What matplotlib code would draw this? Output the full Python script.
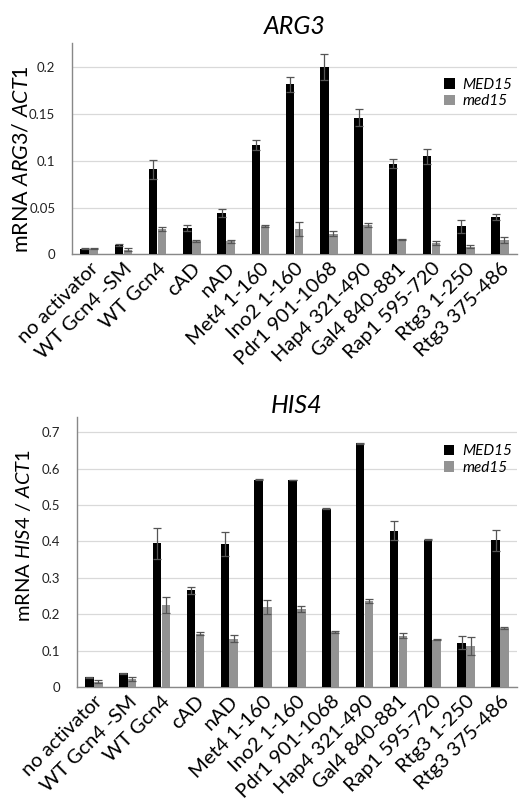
import numpy as np
import matplotlib
matplotlib.use("Agg")
import matplotlib.pyplot as plt
from matplotlib.ticker import FixedLocator, FuncFormatter

plt.rcParams['font.family'] = ['Lato', 'DejaVu Sans']
plt.rcParams['mathtext.fontset'] = 'custom'
plt.rcParams['mathtext.rm'] = 'Lato'
plt.rcParams['mathtext.it'] = 'Lato:italic'

labels = ['no activator', 'WT Gcn4 -SM', 'WT Gcn4', 'cAD', 'nAD', 'Met4 1-160',
          'Ino2 1-160', 'Pdr1 901-1068', 'Hap4 321-490', 'Gal4 840-881',
          'Rap1 595-720', 'Rtg3 1-250', 'Rtg3 375-486']

# ARG3
arg3_wt = [0.006, 0.010, 0.091, 0.028, 0.044, 0.117, 0.182, 0.200, 0.146, 0.097, 0.105, 0.030, 0.040]
arg3_wt_err = [0.0005, 0.0008, 0.010, 0.003, 0.004, 0.005, 0.008, 0.014, 0.009, 0.005, 0.008, 0.007, 0.003]
arg3_mut = [0.006, 0.005, 0.027, 0.014, 0.014, 0.030, 0.027, 0.022, 0.031, 0.016, 0.012, 0.008, 0.015]
arg3_mut_err = [0.0004, 0.002, 0.002, 0.001, 0.0015, 0.001, 0.008, 0.003, 0.002, 0.0005, 0.002, 0.0015, 0.003]

# HIS4
his4_wt = [0.027, 0.038, 0.395, 0.266, 0.392, 0.570, 0.569, 0.490, 0.670, 0.430, 0.405, 0.122, 0.403]
his4_wt_err = [0.001, 0.001, 0.042, 0.010, 0.033, 0.002, 0.001, 0.001, 0.002, 0.025, 0.001, 0.018, 0.028]
his4_mut = [0.015, 0.022, 0.225, 0.147, 0.133, 0.220, 0.214, 0.151, 0.237, 0.141, 0.130, 0.113, 0.163]
his4_mut_err = [0.003, 0.006, 0.022, 0.003, 0.009, 0.020, 0.009, 0.002, 0.006, 0.007, 0.001, 0.024, 0.003]

black = '#000000'
grey = '#939393'
errc = '#555555'

fig = plt.figure(figsize=(5.2, 8.02), dpi=100)
ax1 = fig.add_axes([0.1385, 0.683, 0.856, 0.263])
ax2 = fig.add_axes([0.148, 0.1434, 0.846, 0.3366])


def panel(ax, wt, wt_err, mut, mut_err, ymax, ticks, title, ylab, tpad, legy, ysize, lx, ly):
    x = np.arange(len(labels))
    w = 0.25
    ekw = dict(ecolor=errc, elinewidth=0.9, capsize=3, capthick=0.9)
    ax.bar(x - 0.13, wt, w, color=black, yerr=wt_err, error_kw=ekw, label='MED15', zorder=3)
    ax.bar(x + 0.13, mut, w, color=grey, yerr=mut_err, error_kw=ekw, label='med15', zorder=3)
    ax.set_xlim(-0.5, len(labels) - 0.5)
    ax.set_ylim(0, ymax)
    ax.yaxis.set_major_locator(FixedLocator(ticks))
    ax.yaxis.set_major_formatter(FuncFormatter(lambda v, p: '0' if v == 0 else '%g' % v))
    ax.grid(axis='y', color='#d9d9d9', linewidth=0.9, zorder=0)
    for s in ['top', 'right']:
        ax.spines[s].set_visible(False)
    for s in ['left', 'bottom']:
        ax.spines[s].set_color('#888888')
        ax.spines[s].set_linewidth(1.0)
    ax.set_xticks(x)
    ax.set_xticklabels(labels, rotation=45, ha='right', rotation_mode='anchor', fontsize=14.5)
    ax.tick_params(axis='x', length=0, pad=4)
    ax.tick_params(axis='y', length=0, pad=12, labelsize=9.5, labelcolor='#222222')
    ax.set_title(title, fontsize=18, style='italic', pad=tpad)
    ax.set_ylabel(ylab, fontsize=ysize)
    ax.yaxis.set_label_coords(lx, ly)
    ax.legend(loc='upper right', bbox_to_anchor=(1.02, legy), frameon=False,
              handlelength=0.7, handleheight=0.7, handletextpad=0.5,
              labelspacing=0.15, prop={'style': 'italic', 'size': 11})


panel(ax1, arg3_wt, arg3_wt_err, arg3_mut, arg3_mut_err, 0.2257,
      [0, 0.05, 0.1, 0.15, 0.2], 'ARG3', r'mRNA $\mathit{ARG3/\ ACT1}$', 7, 0.90,
      15.5, -0.092, 0.45)
panel(ax2, his4_wt, his4_wt_err, his4_mut, his4_mut_err, 0.742,
      [0, 0.1, 0.2, 0.3, 0.4, 0.5, 0.6, 0.7], 'HIS4', r'mRNA $\mathit{HIS4\ /\ ACT1}$', 2, 0.95,
      14.5, -0.1, 0.56)

fig.savefig('out.png', dpi=100)
